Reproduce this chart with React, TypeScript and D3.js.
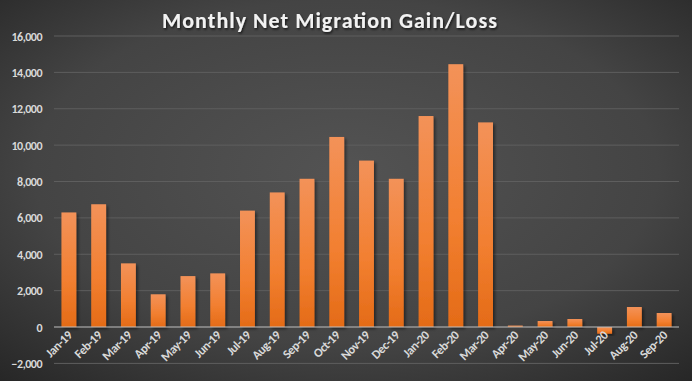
import React from "react";
import * as d3 from "d3";

const categories = ["Jan-19","Feb-19","Mar-19","Apr-19","May-19","Jun-19","Jul-19","Aug-19","Sep-19","Oct-19","Nov-19","Dec-19","Jan-20","Feb-20","Mar-20","Apr-20","May-20","Jun-20","Jul-20","Aug-20","Sep-20"];
const values = [6300,6750,3500,1800,2800,2950,6400,7400,8150,10450,9150,8150,11600,14450,11250,80,330,440,-370,1100,770];
const yTicks = [-2000,0,2000,4000,6000,8000,10000,12000,14000,16000];
const title = "Monthly Net Migration Gain/Loss";

const W = 692, H = 381;

export default function App() {
  const x = d3.scaleBand<string>().domain(categories).range([54, 679]).paddingInner(0.5).paddingOuter(0.25);
  const y = d3.scaleLinear().domain([-2000, 16000]).range([363.4, 36]);
  const fmt = d3.format(",");
  const font = "Carlito, 'Open Sans', 'Liberation Sans', Arial, sans-serif";
  return (
    <svg width={W} height={H} style={{ position: "absolute", left: 0, top: 0 }}>
      <defs>
        <radialGradient id="bg" cx="50%" cy="45%" r="75%">
          <stop offset="0%" stopColor="#535353" />
          <stop offset="60%" stopColor="#444444" />
          <stop offset="100%" stopColor="#262626" />
        </radialGradient>
        <linearGradient id="bar" x1="0" y1="0" x2="0" y2="1">
          <stop offset="0%" stopColor="#f39259" />
          <stop offset="60%" stopColor="#f27f30" />
          <stop offset="100%" stopColor="#e46b17" />
        </linearGradient>
        <filter id="sh" x="-30%" y="-10%" width="160%" height="130%">
          <feDropShadow dx="2" dy="2" stdDeviation="1.5" floodColor="#000" floodOpacity="0.45" />
        </filter>
        <filter id="tsh" x="-10%" y="-30%" width="120%" height="160%">
          <feDropShadow dx="1" dy="1.5" stdDeviation="1" floodColor="#000" floodOpacity="0.7" />
        </filter>
      </defs>
      <rect width={W} height={H} fill="url(#bg)" />
      <text x={162} y={28} fill="#f2f2f2" fontFamily={font} fontWeight="bold" fontSize={22} textLength={335} lengthAdjust="spacing" filter="url(#tsh)">{title}</text>
      {yTicks.map(t => (
        <g key={t}>
          {t !== 0 && <line x1={54} x2={679} y1={y(t)} y2={y(t)} stroke="#5e5e5e" strokeWidth={1} />}
          <text x={42} y={y(t) + 4.5} textAnchor="end" fill="#d9d9d9" fontFamily={font} fontSize={12} fontWeight="bold" letterSpacing={-0.5}>{fmt(t)}</text>
        </g>
      ))}
      {values.map((v, i) => {
        const c = categories[i];
        const y0 = y(Math.max(0, v));
        const h = Math.abs(y(v) - y(0));
        return <rect key={c} x={x(c)} y={y0} width={x.bandwidth()} height={h} fill="url(#bar)" filter="url(#sh)" />;
      })}
      <line x1={54} x2={679} y1={y(0)} y2={y(0)} stroke="#bfbfbf" strokeWidth={1.2} />
      {categories.map(c => {
        const cx = (x(c) as number) + x.bandwidth() / 2 + 4;
        const cy = y(0) + 9;
        return (
          <text key={c} transform={`translate(${cx},${cy}) rotate(-45)`} textAnchor="end" fill="#d9d9d9" fontFamily={font} fontSize={12.5} fontWeight="bold" letterSpacing={-0.4}>{c}</text>
        );
      })}
    </svg>
  );
}
